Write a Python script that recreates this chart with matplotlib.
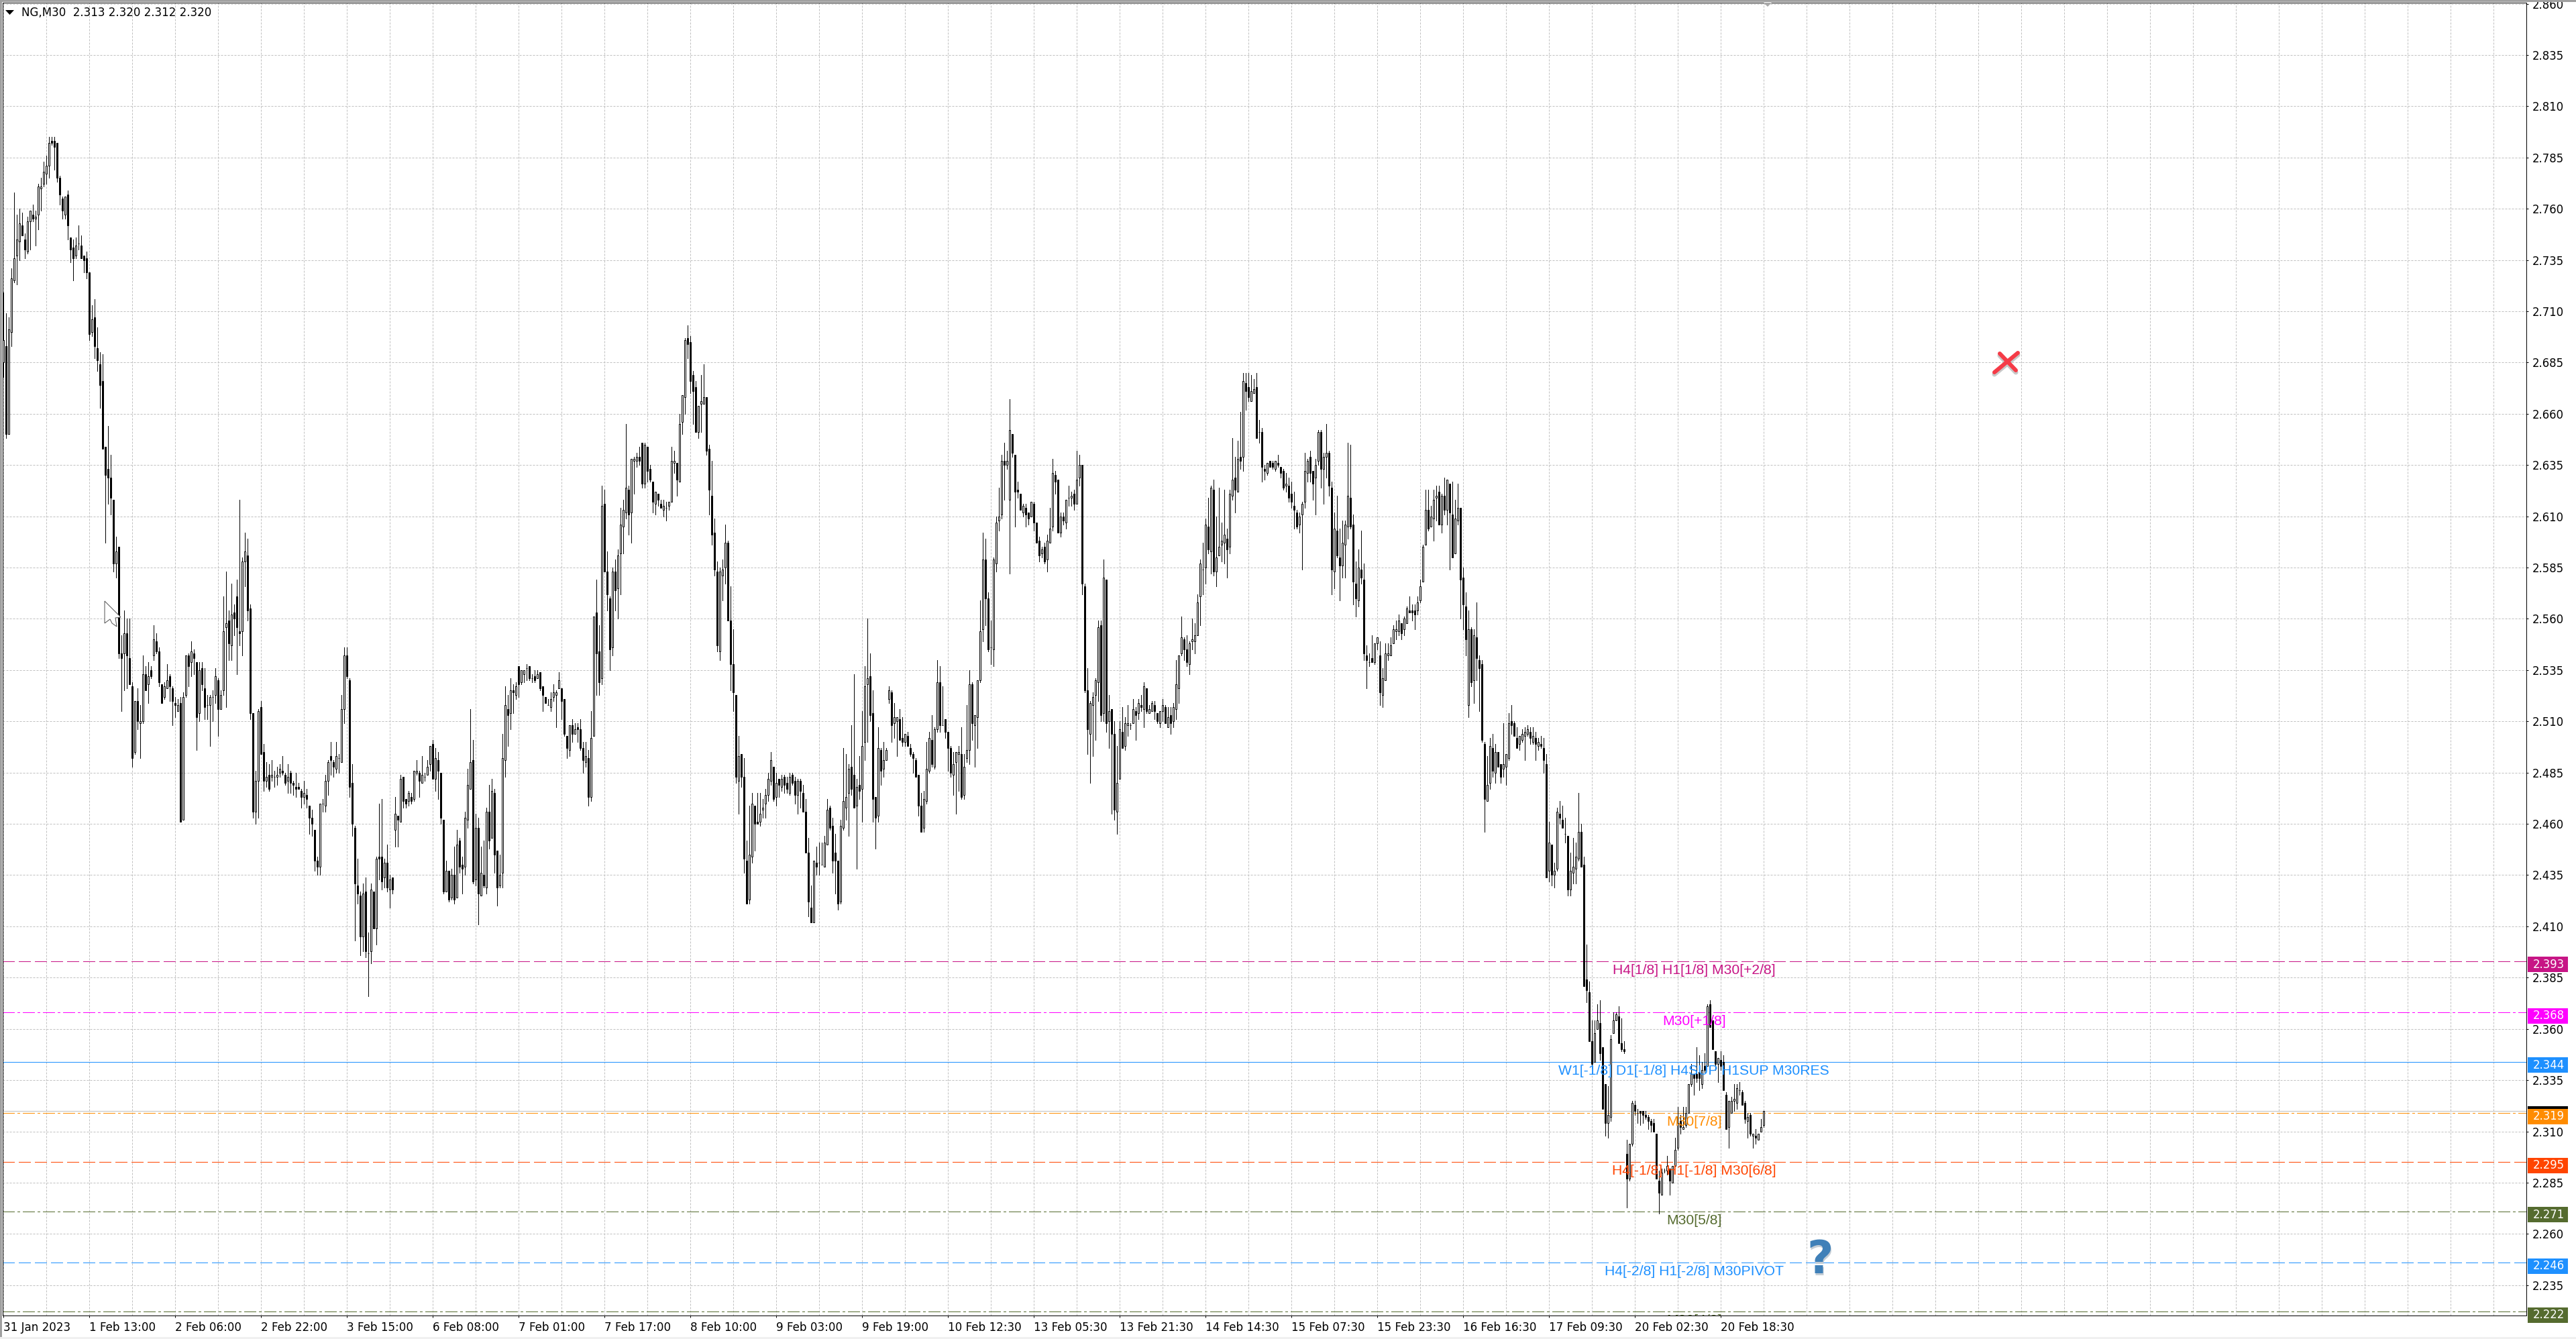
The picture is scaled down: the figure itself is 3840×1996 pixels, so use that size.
import numpy as np
import matplotlib
matplotlib.use('Agg')
import matplotlib.pyplot as plt
from matplotlib.lines import Line2D
from matplotlib.patches import Polygon, Rectangle

W, H = 3840, 1996

# NG,M30 candles, prices in thousandths in stretches
opens_a = [2685,2693,2650,2700,2725,2737,2744,2752,2745,2739,
    2754,2757,2755,2757,2770,2772,2777,2781,2793,2793,
    2792,2775,2765,2757,2767,2746,2741,2737,2743,2742,
    2737,2736,2729,2700,2707,2692,2684,2676,2644,2633,
    2629,2618,2587,2595,2543,2543,2553,2541,2527,2495,
    2520,2509,2510,2533,2528,2535,2542,2549,2544,2528,
    2522,2526,2532,2526,2519,2515,2519,2462,2523,2542,
    2539,2543,2539,2514,2536,2526,2518,2518,2522,2523,
    2530,2516,2525,2556,2559,2547,2563,2571,2554,2554,
    2588,2591,2565,2514,2466,2481,2517,2495,2481,2484,
    2483,2483,2483,2485,2486,2484,2481,2485,2480,2478,
    2478,2476,2473,2474,2469,2463,2457,2442,2439,2470,
    2469,2481,2493,2490,2487,2492,2490,2516,2542]
highs_a = [2719,2709,2707,2731,2768,2757,2760,2758,2748,2756,
    2759,2762,2759,2772,2775,2783,2786,2795,2795,2795,
    2792,2776,2766,2766,2769,2746,2745,2746,2752,2747,
    2737,2739,2729,2713,2716,2702,2690,2689,2644,2654,
    2640,2618,2600,2595,2552,2564,2560,2560,2529,2520,
    2526,2518,2542,2537,2539,2537,2557,2553,2546,2528,
    2529,2538,2533,2527,2522,2521,2522,2524,2542,2543,
    2549,2545,2539,2539,2539,2536,2523,2523,2525,2536,
    2531,2525,2571,2583,2564,2577,2567,2579,2618,2590,
    2602,2599,2567,2514,2486,2516,2520,2499,2490,2489,
    2491,2486,2488,2489,2493,2485,2489,2486,2481,2485,
    2480,2477,2481,2477,2469,2467,2457,2444,2470,2472,
    2484,2491,2500,2491,2500,2494,2523,2546,2546]
lows_a = [2678,2648,2650,2693,2724,2723,2735,2747,2736,2738,
    2740,2754,2742,2750,2759,2771,2772,2775,2791,2779,
    2773,2762,2755,2755,2745,2734,2725,2736,2740,2736,
    2729,2726,2696,2698,2687,2681,2663,2643,2597,2616,
    2611,2583,2580,2541,2515,2525,2526,2528,2488,2494,
    2506,2492,2509,2525,2519,2531,2540,2543,2527,2519,
    2521,2526,2520,2508,2512,2515,2461,2462,2522,2527,
    2532,2533,2496,2510,2525,2511,2511,2498,2510,2519,
    2503,2516,2523,2517,2540,2540,2552,2533,2547,2542,
    2576,2559,2511,2463,2460,2463,2494,2476,2478,2476,
    2481,2478,2479,2483,2484,2479,2475,2475,2474,2473,
    2477,2468,2470,2468,2455,2454,2437,2435,2435,2466,
    2466,2474,2484,2483,2485,2485,2490,2509,2531]
closes_a = [2696,2650,2701,2726,2736,2745,2753,2747,2740,2754,
    2759,2755,2756,2771,2771,2778,2781,2792,2792,2790,
    2775,2767,2759,2766,2752,2740,2736,2742,2743,2736,
    2735,2729,2699,2706,2693,2686,2674,2643,2630,2629,
    2619,2587,2593,2543,2541,2553,2542,2528,2492,2520,
    2510,2510,2533,2525,2532,2532,2550,2544,2529,2519,
    2527,2530,2527,2520,2518,2518,2461,2522,2542,2537,
    2544,2541,2512,2535,2528,2517,2518,2522,2522,2532,
    2516,2523,2554,2558,2548,2562,2560,2556,2553,2588,
    2593,2564,2514,2466,2481,2515,2494,2481,2483,2477,
    2484,2483,2484,2487,2485,2480,2483,2480,2479,2477,
    2477,2473,2475,2472,2463,2460,2442,2439,2470,2470,
    2481,2490,2491,2488,2493,2492,2516,2542,2532]

opens_b = [2530,2480,2458,2430,2425,2405,2427,2397,2398,2427,
    2409,2444,2444,2434,2441,2428,2434,2457,2464,2461,
    2483,2472,2471,2473,2472,2485,2485,2480,2483,2484,
    2489,2499,2482,2491,2485,2462,2427,2437,2424,2435,
    2424,2452,2440,2439,2462,2477,2491,2433,2458,2425,
    2435,2429,2466,2453,2475,2447,2430,2436,2491,2516,
    2514,2525,2523,2537,2529,2533,2536,2537,2531,2532,
    2531,2534,2527,2522,2518,2517,2522,2523,2526,2526,
    2521,2503,2496,2508,2504,2507,2506,2497,2490,2492,
    2473,2503]
highs_b = [2531,2489,2459,2443,2427,2431,2434,2407,2431,2427,
    2444,2470,2472,2443,2450,2435,2434,2473,2464,2484,
    2483,2472,2476,2475,2486,2491,2486,2493,2485,2491,
    2498,2501,2497,2495,2485,2462,2442,2437,2438,2449,
    2457,2453,2444,2466,2487,2516,2501,2465,2463,2449,
    2452,2468,2479,2482,2477,2447,2445,2504,2527,2523,
    2531,2528,2529,2537,2535,2535,2538,2537,2533,2535,
    2535,2534,2527,2522,2521,2524,2528,2525,2534,2526,
    2521,2503,2508,2511,2509,2509,2511,2500,2500,2496,
    2515,2561]
lows_b = [2473,2454,2403,2421,2396,2398,2395,2376,2392,2409,
    2401,2433,2428,2429,2427,2419,2426,2449,2449,2461,
    2468,2468,2469,2470,2471,2484,2473,2480,2481,2484,
    2486,2482,2476,2472,2460,2426,2427,2422,2423,2421,
    2424,2436,2426,2435,2458,2477,2431,2430,2411,2425,
    2429,2426,2448,2453,2436,2420,2429,2429,2483,2498,
    2506,2514,2521,2522,2528,2529,2530,2530,2529,2529,
    2531,2525,2515,2519,2518,2515,2520,2507,2526,2511,
    2503,2492,2493,2500,2504,2500,2496,2485,2488,2469,
    2471,2503]
closes_b = [2478,2460,2431,2426,2405,2426,2398,2397,2428,2409,
    2443,2443,2432,2441,2429,2433,2428,2465,2462,2482,
    2471,2470,2475,2471,2486,2486,2481,2484,2483,2488,
    2498,2482,2492,2486,2463,2427,2437,2423,2435,2423,
    2450,2439,2438,2463,2479,2490,2432,2458,2426,2436,
    2430,2466,2452,2476,2445,2429,2435,2492,2518,2513,
    2525,2524,2527,2528,2535,2535,2536,2531,2531,2530,
    2533,2526,2523,2519,2518,2521,2524,2524,2530,2520,
    2504,2497,2508,2504,2506,2506,2497,2491,2493,2473,
    2502,2561]

opens_c = [2563,2544,2531,2616,2583,2570,2546,2583,2575,2592,
    2605,2612,2623,2612,2637,2637,2639,2646,2626,2644,
    2633,2627,2616,2621,2616,2613,2614,2615,2617,2636,
    2636,2627,2656,2668,2697,2695,2679,2673,2651,2665,
    2665,2668,2643,2620,2602,2583,2544,2581,2585,2597,
    2559,2538,2523,2481,2494,2483,2442,2423,2444,2469,
    2461,2461,2467,2470,2474,2481,2488,2473,2482,2478,
    2483,2480,2475,2484,2481,2474,2481,2475,2466,2446,
    2419,2412,2441,2441,2440,2439,2450,2468,2459,2446,
    2442,2422,2458,2468,2475,2488,2484,2469,2479,2477,
    2500,2528,2532,2514,2473,2464,2496,2487,2491,2521,
    2524,2509,2510,2511,2502,2500,2503,2497,2494,2491,
    2484,2469,2458]
highs_c = [2579,2557,2625,2623,2593,2571,2585,2589,2594,2614,
    2618,2655,2625,2638,2639,2641,2644,2646,2646,2644,
    2635,2627,2622,2621,2618,2618,2617,2617,2644,2642,
    2636,2660,2669,2697,2703,2698,2681,2676,2664,2679,
    2684,2668,2645,2637,2609,2588,2585,2589,2606,2598,
    2576,2555,2523,2503,2494,2492,2452,2469,2475,2469,
    2475,2475,2472,2477,2485,2495,2488,2485,2482,2484,
    2484,2483,2485,2485,2483,2482,2482,2479,2472,2453,
    2430,2442,2449,2451,2451,2454,2472,2469,2463,2455,
    2442,2462,2497,2494,2489,2508,2533,2482,2493,2515,
    2537,2560,2543,2525,2473,2507,2497,2500,2497,2527,
    2525,2519,2512,2516,2512,2504,2505,2499,2495,2492,
    2484,2475,2476]
lows_c = [2523,2523,2528,2583,2564,2535,2542,2564,2560,2572,
    2592,2609,2601,2597,2621,2634,2635,2624,2624,2627,
    2627,2612,2611,2615,2614,2610,2608,2613,2617,2631,
    2620,2627,2650,2660,2687,2670,2655,2651,2648,2651,
    2665,2640,2611,2596,2581,2544,2540,2569,2577,2559,
    2525,2515,2480,2465,2478,2436,2421,2421,2441,2447,
    2460,2459,2463,2463,2471,2479,2471,2469,2473,2476,
    2475,2475,2474,2479,2470,2465,2468,2466,2446,2415,
    2412,2412,2435,2435,2440,2439,2450,2457,2436,2426,
    2418,2421,2457,2462,2454,2474,2468,2438,2472,2461,
    2491,2500,2510,2461,2448,2461,2479,2483,2491,2519,
    2500,2502,2493,2501,2498,2498,2498,2493,2485,2483,
    2464,2456,2456]
closes_c = [2543,2529,2615,2583,2572,2545,2583,2574,2591,2606,
    2613,2624,2611,2638,2638,2639,2637,2626,2645,2632,
    2628,2617,2622,2618,2614,2615,2614,2617,2637,2637,
    2628,2655,2669,2696,2694,2676,2671,2651,2664,2666,
    2668,2642,2623,2601,2584,2547,2583,2584,2597,2559,
    2538,2524,2483,2493,2483,2443,2421,2445,2470,2460,
    2460,2465,2468,2474,2482,2491,2472,2480,2479,2482,
    2479,2477,2483,2480,2474,2481,2476,2466,2446,2422,
    2412,2442,2439,2441,2440,2451,2467,2458,2442,2442,
    2421,2459,2471,2473,2487,2477,2468,2478,2476,2498,
    2527,2531,2513,2472,2463,2497,2486,2491,2496,2525,
    2508,2512,2512,2501,2500,2504,2498,2494,2492,2483,
    2469,2456,2472]

opens_d = [2471,2486,2501,2488,2506,2529,2508,2511,2505,2497,
    2484,2490,2494,2494,2474,2492,2496,2528,2508,2512,
    2530,2555,2589,2570,2546,2545,2587,2608,2611,2637,
    2635,2618,2650,2640,2623,2621,2612,2614,2612,2610,
    2616,2607,2598,2592,2595,2589,2597,2605,2630,2628,
    2602,2610,2607,2619,2619,2621,2616,2629,2635,2576,
    2525,2504,2518,2523,2529,2557,2514,2579,2510,2516,
    2504,2466,2482,2505,2498,2508,2508,2509,2515,2514,
    2518,2516,2526,2514,2515,2518,2514,2509,2515,2517,
    2507,2513,2510,2516,2526,2543,2550,2545,2538,2549,
    2549,2552,2571,2584,2585,2605,2593,2623,2583,2591,
    2596,2597,2599,2595,2620,2629,2622,2639,2639,2675,
    2673,2666,2670,2673,2651,2651,2633,2631,2637,2636]
highs_d = [2500,2505,2513,2507,2540,2537,2527,2511,2505,2498,
    2495,2495,2498,2507,2494,2518,2535,2529,2513,2530,
    2569,2602,2599,2573,2559,2590,2610,2624,2640,2646,
    2642,2667,2650,2640,2627,2621,2616,2616,2612,2617,
    2617,2607,2600,2595,2597,2601,2614,2638,2632,2628,
    2612,2612,2618,2625,2622,2623,2642,2640,2635,2577,
    2536,2520,2524,2531,2559,2559,2589,2579,2523,2516,
    2510,2498,2510,2517,2512,2518,2509,2521,2517,2521,
    2523,2529,2526,2518,2520,2520,2514,2515,2521,2518,
    2517,2517,2519,2540,2542,2561,2551,2552,2549,2560,
    2558,2572,2589,2597,2609,2619,2625,2628,2610,2624,
    2607,2623,2604,2623,2648,2639,2647,2661,2680,2680,
    2680,2679,2677,2680,2657,2653,2635,2636,2637,2637]
lows_d = [2470,2485,2488,2487,2505,2505,2508,2502,2486,2483,
    2474,2465,2476,2472,2472,2490,2489,2501,2488,2497,
    2529,2549,2557,2544,2538,2537,2583,2603,2609,2618,
    2633,2582,2639,2605,2619,2613,2610,2605,2606,2610,
    2603,2597,2588,2590,2587,2583,2597,2603,2621,2602,
    2600,2606,2604,2615,2615,2613,2616,2625,2572,2524,
    2494,2480,2493,2501,2520,2510,2510,2505,2497,2465,
    2462,2455,2482,2497,2496,2503,2506,2509,2501,2511,
    2515,2507,2514,2514,2515,2511,2509,2507,2510,2509,
    2507,2504,2507,2511,2519,2542,2540,2537,2533,2545,
    2543,2552,2557,2572,2577,2592,2582,2581,2576,2591,
    2588,2587,2580,2592,2618,2612,2622,2633,2632,2662,
    2666,2666,2670,2648,2646,2627,2628,2630,2634,2633]
closes_d = [2487,2502,2489,2506,2529,2508,2508,2505,2497,2485,
    2489,2495,2495,2473,2488,2496,2528,2509,2513,2530,
    2554,2589,2570,2545,2546,2589,2607,2610,2637,2635,
    2637,2652,2641,2622,2622,2613,2615,2611,2609,2617,
    2607,2597,2591,2594,2588,2598,2604,2631,2627,2602,
    2610,2608,2618,2619,2620,2616,2628,2635,2577,2525,
    2506,2519,2522,2530,2556,2513,2580,2509,2515,2504,
    2467,2480,2506,2497,2509,2509,2508,2516,2513,2519,
    2517,2527,2515,2516,2519,2515,2510,2515,2518,2509,
    2512,2509,2517,2528,2542,2551,2545,2539,2548,2550,
    2552,2568,2587,2584,2606,2594,2624,2583,2590,2595,
    2598,2601,2594,2621,2628,2623,2638,2637,2676,2671,
    2668,2671,2672,2648,2651,2634,2632,2636,2634,2634]

opens_e = [2633,2636,2634,2632,2625,2625,2621,2615,2612,2606,
    2611,2617,2631,2639,2632,2629,2637,2651,2633,2639,
    2641,2624,2583,2603,2590,2586,2596,2605,2619,2606,
    2577,2569,2584,2579,2542,2539,2541,2539,2548,2542,
    2523,2530,2542,2542,2548,2554,2554,2558,2555,2558,
    2564,2564,2564,2564,2569,2578,2596,2613,2605,2609,
    2619,2622,2606,2620,2613,2626,2611,2592,2608,2614,
    2580,2566,2518,2555,2530,2551,2540,2538]
highs_e = [2637,2640,2634,2633,2631,2629,2627,2622,2613,2612,
    2617,2641,2638,2642,2632,2638,2652,2652,2641,2655,
    2642,2627,2612,2620,2604,2608,2608,2646,2645,2611,
    2588,2594,2603,2587,2547,2543,2552,2548,2551,2549,
    2536,2548,2548,2551,2557,2559,2562,2558,2561,2566,
    2571,2567,2567,2571,2579,2596,2623,2623,2615,2623,
    2625,2625,2621,2629,2628,2626,2627,2618,2626,2614,
    2585,2573,2564,2556,2555,2568,2542,2540]
lows_e = [2632,2634,2629,2623,2622,2617,2614,2604,2604,2602,
    2584,2614,2627,2627,2618,2611,2635,2624,2616,2629,
    2620,2572,2575,2590,2569,2580,2580,2599,2604,2567,
    2561,2566,2577,2540,2526,2537,2539,2538,2545,2518,
    2517,2530,2540,2542,2548,2550,2552,2550,2552,2558,
    2563,2559,2555,2562,2568,2578,2596,2603,2605,2598,
    2608,2606,2602,2611,2606,2584,2590,2592,2606,2560,
    2555,2542,2512,2527,2519,2530,2515,2500]
closes_e = [2637,2635,2631,2624,2626,2619,2617,2613,2605,2610,
    2616,2632,2637,2631,2626,2635,2651,2633,2639,2641,
    2625,2584,2604,2591,2586,2597,2606,2620,2605,2578,
    2570,2585,2580,2543,2540,2539,2539,2548,2551,2524,
    2531,2543,2543,2547,2555,2555,2559,2553,2560,2565,
    2563,2563,2562,2568,2576,2595,2613,2604,2610,2618,
    2620,2606,2620,2613,2628,2612,2590,2609,2614,2579,
    2567,2550,2555,2529,2552,2541,2536,2501]

opens_f = [2499,2471,2480,2497,2485,2495,2489,2487,2488,2492,
    2510,2509,2502,2499,2501,2503,2504,2505,2500,2502,
    2498,2499,2497,2489,2437,2450,2435,2438,2465,2462,
    2455,2454,2428,2436,2438,2443,2456,2440]
highs_f = [2500,2493,2502,2504,2499,2495,2489,2509,2494,2514,
    2518,2510,2507,2503,2506,2507,2508,2507,2507,2505,
    2502,2503,2502,2494,2461,2450,2441,2468,2471,2469,
    2463,2454,2446,2453,2451,2475,2460,2444]
lows_f = [2456,2471,2477,2483,2480,2488,2480,2483,2479,2491,
    2504,2503,2497,2496,2500,2491,2503,2499,2499,2491,
    2496,2497,2485,2434,2432,2430,2429,2437,2460,2458,
    2451,2425,2425,2431,2431,2442,2439,2381]
closes_f = [2472,2479,2498,2486,2495,2488,2483,2489,2494,2509,
    2508,2503,2497,2503,2504,2505,2506,2502,2503,2499,
    2500,2498,2491,2434,2451,2435,2437,2466,2463,2458,
    2455,2428,2437,2439,2444,2456,2439,2381]

opens_g = [2384,2378,2354,2344,2360,2363,2351,2333,2314,2317,
    2358,2364,2366,2353,2350,2299,2287,2304,2323,2319,
    2320,2320,2318,2317,2315,2314,2309,2286,2279,2291,
    2291,2292,2285,2293,2302,2315,2311,2313,2319,2333,
    2338,2338,2339,2333,2342,2342,2372,2364,2349,2343,
    2345,2344,2328,2312,2319,2325,2324,2330,2329,2324,
    2315,2318,2308,2308,2306,2310,2313]
highs_g = [2401,2383,2364,2364,2372,2374,2351,2333,2332,2357,
    2368,2368,2371,2365,2354,2306,2304,2325,2325,2321,
    2320,2320,2320,2318,2316,2316,2309,2291,2292,2292,
    2298,2292,2293,2307,2322,2318,2322,2322,2333,2343,
    2338,2351,2347,2344,2348,2372,2374,2364,2349,2346,
    2349,2347,2329,2325,2327,2333,2333,2334,2330,2325,
    2319,2319,2309,2311,2309,2316,2320]
lows_g = [2373,2354,2341,2344,2360,2345,2321,2308,2307,2315,
    2358,2364,2353,2349,2348,2273,2286,2303,2318,2314,
    2313,2314,2316,2311,2310,2310,2287,2270,2279,2290,
    2289,2279,2285,2293,2301,2309,2311,2312,2319,2332,
    2328,2334,2330,2331,2339,2342,2361,2350,2340,2334,
    2340,2330,2311,2302,2319,2320,2321,2328,2323,2314,
    2307,2308,2302,2304,2306,2310,2312]
closes_g = [2379,2354,2343,2358,2364,2348,2321,2314,2318,2355,
    2364,2367,2353,2350,2349,2287,2304,2324,2320,2319,
    2319,2318,2317,2315,2313,2310,2287,2280,2290,2291,
    2293,2286,2293,2301,2314,2312,2312,2319,2333,2338,
    2336,2336,2336,2340,2340,2371,2361,2350,2343,2346,
    2342,2330,2311,2325,2325,2326,2331,2330,2323,2316,
    2317,2309,2309,2307,2309,2312,2320]

time_labels = ['31 Jan 2023', '1 Feb 13:00', '2 Feb 06:00', '2 Feb 22:00', '3 Feb 15:00',
               '6 Feb 08:00', '7 Feb 01:00', '7 Feb 17:00', '8 Feb 10:00', '9 Feb 03:00',
               '9 Feb 19:00', '10 Feb 12:30', '13 Feb 05:30', '13 Feb 21:30', '14 Feb 14:30',
               '15 Feb 07:30', '15 Feb 23:30', '16 Feb 16:30', '17 Feb 09:30', '20 Feb 02:30',
               '20 Feb 18:30']
price_ticks = [2.860, 2.835, 2.810, 2.785, 2.760, 2.735, 2.710, 2.685, 2.660, 2.635, 2.610,
               2.585, 2.560, 2.535, 2.510, 2.485, 2.460, 2.435, 2.410, 2.385, 2.360, 2.335,
               2.310, 2.285, 2.260, 2.235]

level_prices = [2.393, 2.368, 2.344, 2.319, 2.295, 2.271, 2.246, 2.222]
level_colors = ['#C71585', '#FF00FF', '#1E90FF', '#FF8C00', '#FF4500', '#556B2F', '#1E90FF', '#556B2F']
level_styles = [(0, (18, 6)), (0, (18, 5, 4, 5)), '-', (0, (18, 5, 4, 5)), (0, (18, 6)),
                (0, (18, 5, 4, 5)), (0, (18, 6)), (0, (18, 5, 4, 5))]
level_texts = ['H4[1/8] H1[1/8] M30[+2/8]', 'M30[+1/8]', 'W1[-1/8] D1[-1/8] H4SUP H1SUP M30RES',
               'M30[7/8]', 'H4[-1/8] H1[-1/8] M30[6/8]', 'M30[5/8]', 'H4[-2/8] H1[-2/8] M30PIVOT',
               'M30[4/8]']
bid_price = 2.320

opens = np.array(opens_a + opens_b + opens_c + opens_d + opens_e + opens_f + opens_g) / 1000
highs = np.array(highs_a + highs_b + highs_c + highs_d + highs_e + highs_f + highs_g) / 1000
lows = np.array(lows_a + lows_b + lows_c + lows_d + lows_e + lows_f + lows_g) / 1000
closes = np.array(closes_a + closes_b + closes_c + closes_d + closes_e + closes_f + closes_g) / 1000

px = 0.72  # one pixel in points at dpi 100
plt.rcParams['font.family'] = ['DejaVu Sans']
fig = plt.figure(figsize=(W / 100, H / 100), dpi=100, facecolor='white')
ax = fig.add_axes([4 / W, 1 - 1961 / H, 3762 / W, 1957 / H])
ax.set_xlim(-0.325, 940.2)
ax.set_ylim(2.2202, 2.8605)

# grid
ax.set_xticks(np.arange(len(time_labels)) * 32)
ax.set_xticklabels(time_labels, ha='left', fontsize=16.8 * px)
ax.set_xticks(np.arange(16, 940, 16), minor=True)
ax.set_yticks(price_ticks)
ax.set_yticklabels(['%.3f' % p for p in price_ticks], fontsize=16.5 * px)
ax.yaxis.tick_right()
ax.tick_params(axis='both', which='major', length=3 * px, width=px, pad=6 * px)
ax.tick_params(axis='x', which='minor', length=0)
ax.grid(True, which='both', color='#c0c0c0', lw=px, ls=(0, (3, 2)), zorder=0)
ax.set_axisbelow(True)
for s in ax.spines.values():
    s.set_linewidth(px)

# levels
ax.axhline(bid_price, color='#c0c0c0', lw=px, antialiased=False, zorder=1)
for price, col, style in zip(level_prices, level_colors, level_styles):
    ax.axhline(price, color=col, lw=px, ls=style, antialiased=False, zorder=1.5)

# candles
idx = np.arange(len(closes))
ax.vlines(idx, lows, highs, color='black', lw=px, antialiased=False, zorder=2)
up = closes >= opens
ax.bar(idx[up], (closes - opens)[up], bottom=opens[up], width=0.5, color='white',
       edgecolor='black', linewidth=px, zorder=3)
ax.bar(idx[~up], (opens - closes)[~up], bottom=closes[~up], width=0.5, color='black',
       edgecolor='black', linewidth=px, zorder=3)

# level captions, clipped by the frame like the last one in the original
for price, col, label in zip(level_prices, level_colors, level_texts):
    ax.text(630.0, price - 0.0044, label, color=col, ha='center', va='center',
            family='Liberation Sans', fontsize=21.2 * px, zorder=4, clip_on=True)

# price tags on the right
trans = ax.get_yaxis_transform()
tag_x = 2 / 3762
tag_w = 60 / 3762
tag_h = 23 / 3056
tag_shift = 5 / 3056
tag_prices = [bid_price] + level_prices
tag_colors = ['black'] + level_colors
for price, col in zip(tag_prices, tag_colors):
    ax.add_patch(Rectangle((1 + tag_x, price - tag_shift - tag_h / 2), tag_w, tag_h, transform=trans,
                           facecolor=col, edgecolor='none', clip_on=False, zorder=5))
    ax.text(1 + 10 / 3762, price - tag_shift, '%.3f' % price, color='white', transform=trans,
            va='center', ha='left', fontsize=16.5 * px, clip_on=False, zorder=5)


def fx(x):
    return x / W


def fy(y):
    return 1 - y / H


# window edges
fig.add_artist(Rectangle((0, fy(3)), 1, 3 / H, transform=fig.transFigure, facecolor='#a0a0a0', edgecolor='none'))
fig.add_artist(Rectangle((0, 0), 3 / W, 1, transform=fig.transFigure, facecolor='#a0a0a0', edgecolor='none'))
fig.add_artist(Rectangle((0, 0), 1, 3 / H, transform=fig.transFigure, facecolor='#f0f0f0', edgecolor='none'))

# header
fig.add_artist(Polygon([(fx(8), fy(15)), (fx(21), fy(15)), (fx(14.5), fy(22))], closed=True,
                       transform=fig.transFigure, facecolor='black', edgecolor='none'))
fig.text(fx(32), fy(19), 'NG,M30  2.313 2.320 2.312 2.320', fontsize=16.6 * px, va='center', ha='left')

# small pointer at the top edge
fig.add_artist(Polygon([(fx(2629), fy(4)), (fx(2641), fy(4)), (fx(2635), fy(10))], closed=True,
                       transform=fig.transFigure, facecolor='#a8a8a8', edgecolor='none'))

# red cross object
for dy, col, lw in [(3, '#c8c8c8', 7), (0, '#f53b47', 6)]:
    for (x0, y0), (x1, y1) in [((2973, 555), (3008, 526)), ((2981, 527), (3005, 552))]:
        fig.add_artist(Line2D([fx(x0), fx(x1)], [fy(y0 + dy), fy(y1 + dy)], transform=fig.transFigure,
                              color=col, lw=lw * px, solid_capstyle='round'))

# question mark object
fig.text(fx(2714), fy(1882), '?', color='#c4cdd5', fontsize=68 * px, fontweight='bold', ha='center', va='center')
fig.text(fx(2713), fy(1879), '?', color='#3f80b8', fontsize=68 * px, fontweight='bold', ha='center', va='center')

# mouse pointer left in the screenshot
fig.add_artist(Polygon([(fx(156), fy(896)), (fx(180), fy(920)), (fx(172), fy(921)), (fx(174), fy(934)),
                        (fx(167), fy(929)), (fx(164), fy(923)), (fx(156), fy(929))], closed=True,
                       transform=fig.transFigure, facecolor='white', edgecolor='#555555', lw=px))

fig.savefig('out.png', dpi=100, facecolor='white')
